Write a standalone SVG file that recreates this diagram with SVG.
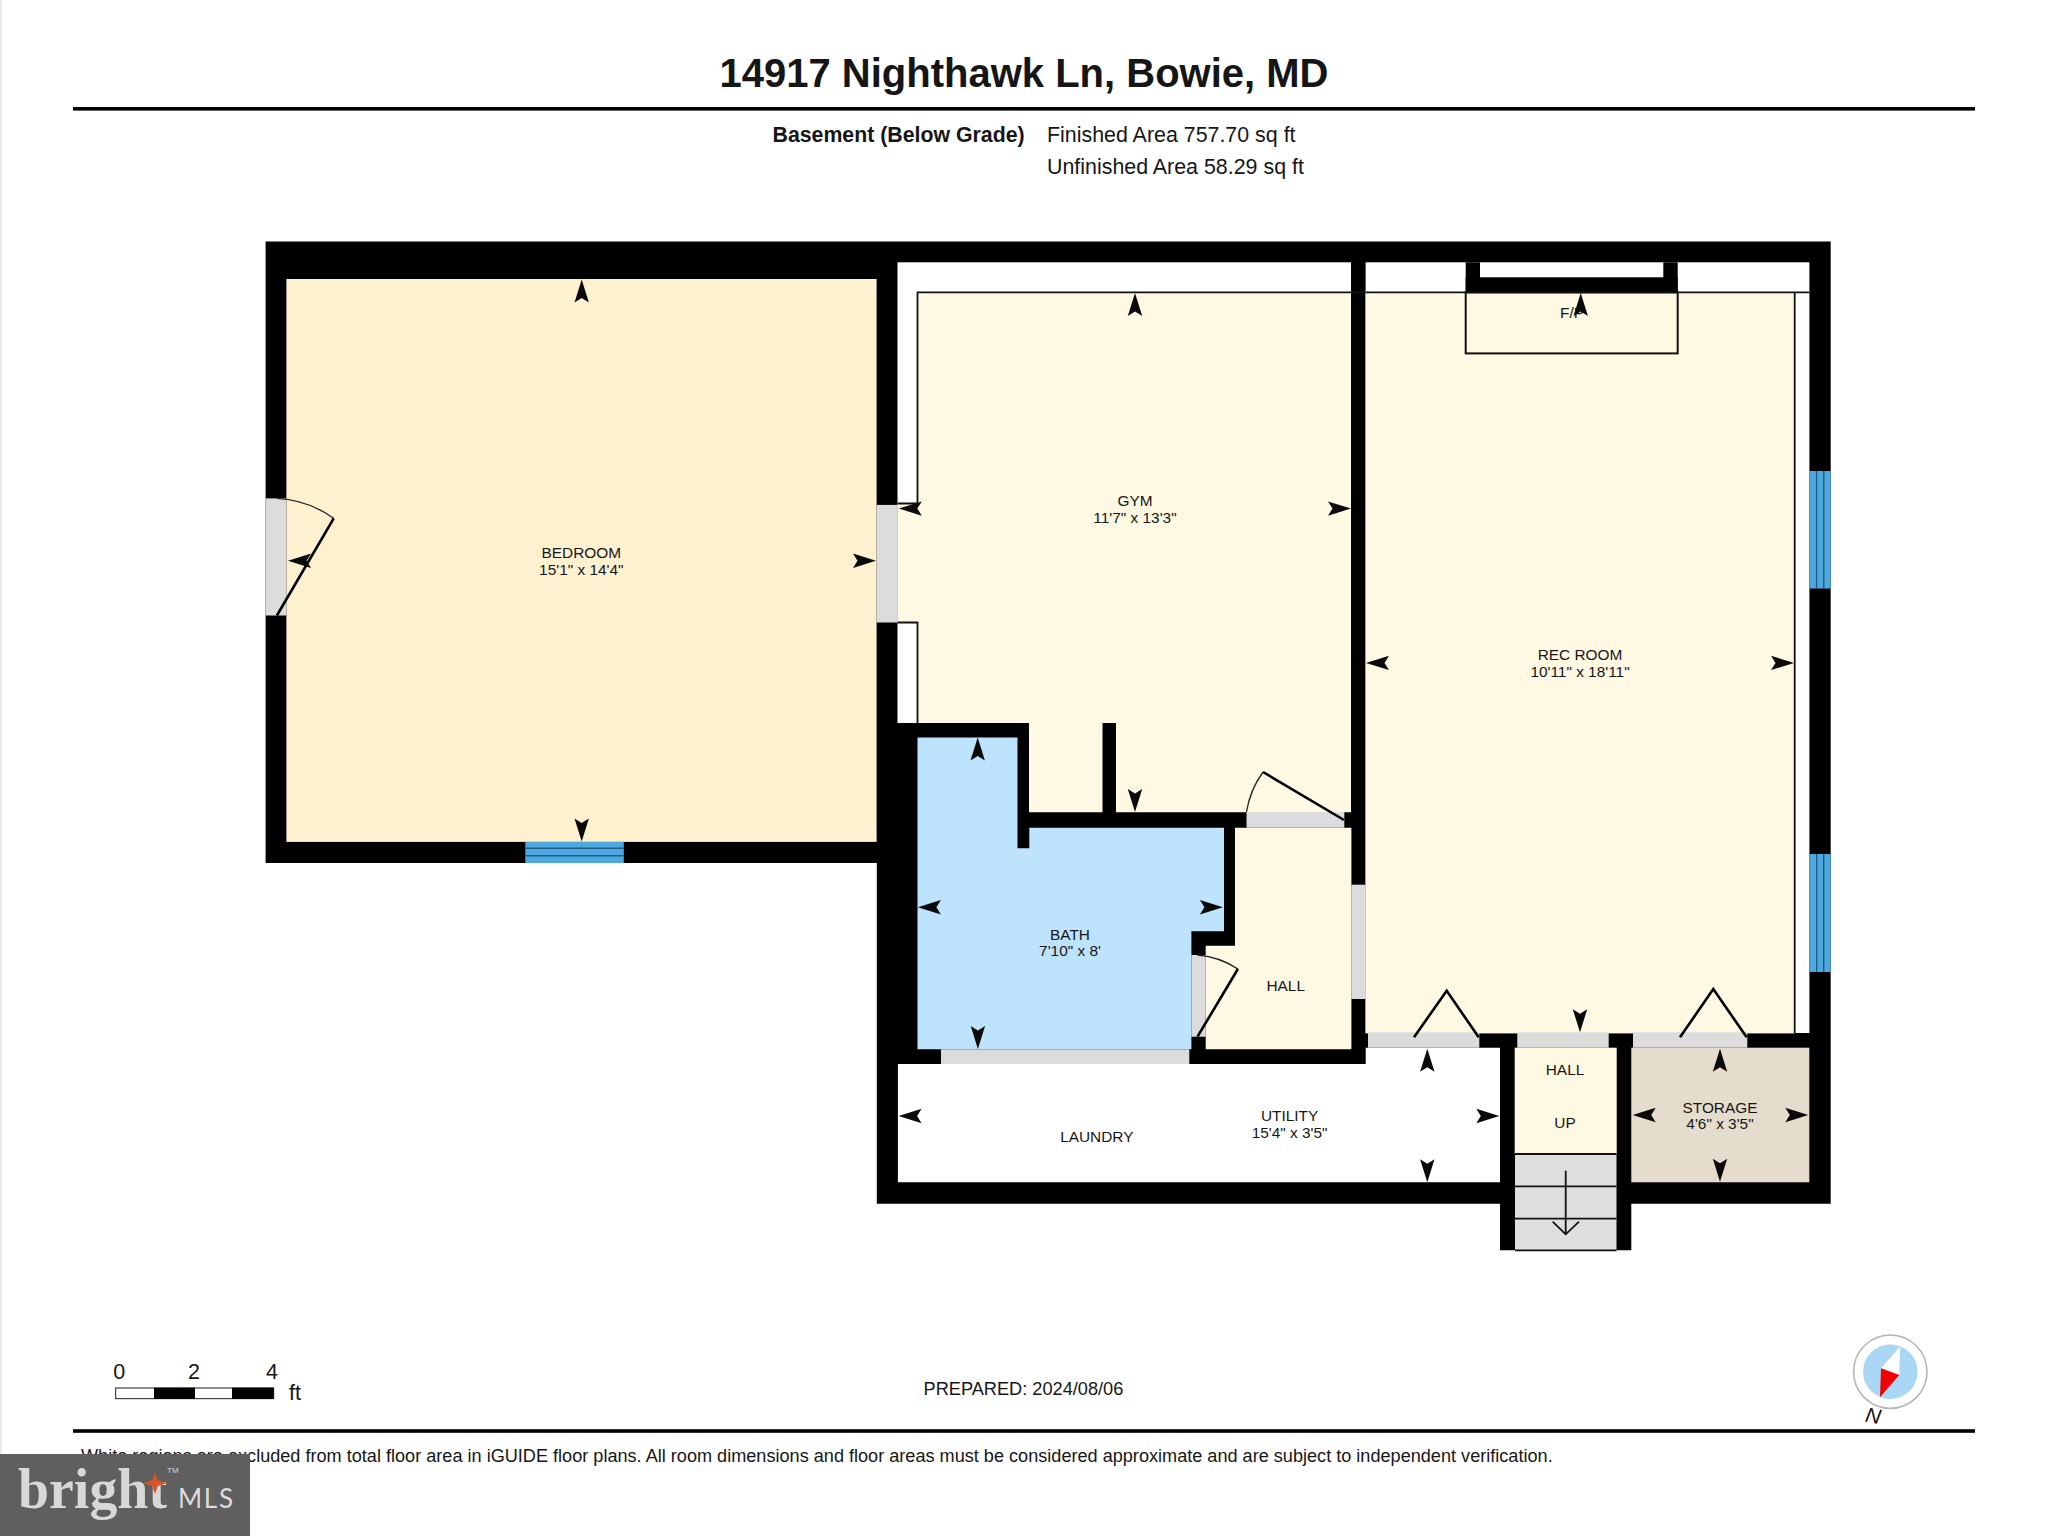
<svg xmlns="http://www.w3.org/2000/svg" width="2048" height="1536" viewBox="0 0 2048 1536">
<style>
text{font-family:"Liberation Sans",Arial,sans-serif;fill:#161616}
.l{font-size:15.4px;text-anchor:middle}
.cream{fill:#fff8e3}
.grey{fill:#dcdcdc}
.win{fill:#4ea8de}
.wl{stroke:#1c5f8c;stroke-width:1.4;fill:none}
.thin{stroke:#111;stroke-width:1.8;fill:none}
.door{stroke:#000;stroke-width:2.6;fill:none}
.arc{stroke:#222;stroke-width:1.3;fill:none}
</style>
<defs>
<path id="a" d="M0,0 L7.2,23 L0,18.5 L-7.2,23 Z" fill="#0a0a0a"/>
</defs>
<rect width="2048" height="1536" fill="#fff"/>
<rect x="0" y="0" width="1.5" height="1536" fill="#e4e4e4"/>
<g id="header">
<text x="1024" y="86.5" font-size="40" font-weight="700" text-anchor="middle">14917 Nighthawk Ln, Bowie, MD</text>
<rect x="73" y="107" width="1902" height="3.6" fill="#000"/>
<text x="1024.6" y="141.7" font-size="21.3" font-weight="700" text-anchor="end">Basement (Below Grade)</text>
<text x="1047" y="141.7" font-size="21.4">Finished Area 757.70 sq ft</text>
<text x="1047" y="174" font-size="21.4">Unfinished Area 58.29 sq ft</text>
</g>
<g id="walls">
<path fill="#000" d="M265.6,241.5H1830.7V1203.7H1631.3V1250.3H1500V1203.7H876.8V863H265.6Z"/>
</g>
<g id="bedroom">
<rect x="286.4" y="279" width="590.2" height="562.9" fill="#fef1d0"/>
<rect x="265.6" y="498.4" width="20.8" height="117.1" class="grey"/>
<rect x="525.3" y="841.9" width="98.5" height="21.1" class="win"/>
<path class="wl" d="M525.3,848.3H623.8M525.3,855.7H623.8"/>
<path class="arc" d="M276.9,498.4Q308,500 333.7,518.3"/>
<path class="door" d="M333.7,518.3L276.9,615.5"/>
<use href="#a" transform="translate(581.7,279.5)"/>
<use href="#a" transform="translate(581.7,841.5) rotate(180)"/>
<use href="#a" transform="translate(288,560.8) rotate(-90)"/>
<use href="#a" transform="translate(876,560.8) rotate(90)"/>
<text class="l" x="581.3" y="558.2">BEDROOM</text>
<text class="l" x="581.3" y="574.7">15'1" x 14'4"</text>
</g>
<g id="gym">
<rect x="897.5" y="262.3" width="453.5" height="460.7" fill="#fff"/>
<path class="cream" d="M917.5,292.4H1351V812.3H1116V723H1102.5V812.3H1029V723H917.5V622.5H897.5V503.5H917.5Z"/>
<rect x="876.6" y="504.9" width="20.9" height="117.6" class="grey"/>
<path class="thin" d="M897.5,503.5H917.5V292.4H1809.4M897.5,622.5H917.5V723"/>
<rect x="1246.5" y="812" width="97.8" height="15.7" class="grey"/>
<path class="arc" d="M1246.5,812Q1250,790 1263,772"/>
<path class="door" d="M1263,772L1344,820"/>
<use href="#a" transform="translate(1135,293)"/>
<use href="#a" transform="translate(1135,812) rotate(180)"/>
<use href="#a" transform="translate(898.8,508.6) rotate(-90)"/>
<use href="#a" transform="translate(1351,508.6) rotate(90)"/>
<text class="l" x="1135" y="505.5">GYM</text>
<text class="l" x="1135" y="522.5">11'7" x 13'3"</text>
</g>
<g id="rec-room">
<rect x="1365.6" y="262.3" width="443.8" height="770.7" fill="#fff"/>
<rect x="1365.6" y="292.4" width="429.1" height="741" class="cream"/>
<path class="thin" d="M1365.6,292.4H1809.4M1794.7,292.4V1033"/>
<rect x="1465.7" y="262.3" width="14.3" height="30" fill="#000"/>
<rect x="1663.3" y="262.3" width="14.4" height="30" fill="#000"/>
<rect x="1465.7" y="277.3" width="212" height="15" fill="#000"/>
<rect x="1465.7" y="292.4" width="212" height="61" fill="none" stroke="#111" stroke-width="2"/>
<text class="l" x="1572" y="318.3">F/P</text>
<rect x="1809.4" y="471" width="21.3" height="117.5" class="win"/>
<path class="wl" d="M1816.6,471V588.5M1823.8,471V588.5"/>
<rect x="1809.4" y="854" width="21.3" height="118" class="win"/>
<path class="wl" d="M1816.7,854V972M1823.7,854V972"/>
<rect x="1351.4" y="884.7" width="14.3" height="114.3" class="grey"/>
<rect x="1368" y="1032.3" width="111.3" height="15.4" class="grey"/>
<rect x="1517.3" y="1032.3" width="91.4" height="15.4" class="grey"/>
<rect x="1633" y="1032.3" width="114.3" height="15.4" class="grey"/>
<path class="door" d="M1414,1037.3L1446.7,990.7L1478.7,1037.3M1680,1037.3L1713.3,989L1746.7,1037.3"/>
<use href="#a" transform="translate(1580.7,293)"/>
<use href="#a" transform="translate(1580,1032.3) rotate(180)"/>
<use href="#a" transform="translate(1366,662.9) rotate(-90)"/>
<use href="#a" transform="translate(1794,662.9) rotate(90)"/>
<text class="l" x="1580" y="660">REC ROOM</text>
<text class="l" x="1580" y="676.7">10'11" x 18'11"</text>
</g>
<g id="bath">
<path fill="#bde3fd" d="M917.5,737.5H1017.5V848.3H1029.3V827.7H1224V931.3H1191.4V1049.3H917.5Z"/>
<rect x="941" y="1049.3" width="248.3" height="14.7" class="grey"/>
<use href="#a" transform="translate(977.7,737.5)"/>
<use href="#a" transform="translate(977.9,1049) rotate(180)"/>
<use href="#a" transform="translate(917.9,907.3) rotate(-90)"/>
<use href="#a" transform="translate(1222.9,907.3) rotate(90)"/>
<text class="l" x="1070" y="940">BATH</text>
<text class="l" x="1070" y="956">7'10" x 8'</text>
</g>
<g id="hall">
<path class="cream" d="M1235,827.7H1351.4V1049.3H1205.7V945.7H1235Z"/>
<rect x="1191.4" y="955" width="14.3" height="81.7" class="grey"/>
<path class="arc" d="M1197.5,955Q1220,957 1237.9,969"/>
<path class="door" d="M1237.9,969L1197.5,1036.7"/>
<text class="l" x="1285.7" y="990.7">HALL</text>
</g>
<g id="utility">
<path fill="#fff" d="M897.9,1064H1365.7V1047.7H1500V1182.3H897.9Z"/>
<use href="#a" transform="translate(1427.3,1048.7)"/>
<use href="#a" transform="translate(1427.3,1182.3) rotate(180)"/>
<use href="#a" transform="translate(898.6,1116) rotate(-90)"/>
<use href="#a" transform="translate(1499.3,1116) rotate(90)"/>
<text class="l" x="1096.8" y="1142.3">LAUNDRY</text>
<text class="l" x="1289.6" y="1121">UTILITY</text>
<text class="l" x="1289.6" y="1137.7">15'4" x 3'5"</text>
</g>
<g id="stair-hall">
<rect x="1514.7" y="1047.7" width="102" height="106.3" class="cream"/>
<rect x="1515" y="1154" width="101.5" height="96.3" fill="#dedede"/>
<path class="thin" d="M1515,1154H1616.5M1515,1186.3H1616.5M1515,1218.7H1616.5M1515,1250.3H1616.5"/>
<path class="thin" d="M1565.7,1170.7V1234.3M1552.7,1221.7L1565.7,1234.3L1579,1221.7"/>
<text class="l" x="1565" y="1075.3">HALL</text>
<text class="l" x="1565" y="1128">UP</text>
</g>
<g id="storage">
<rect x="1631.3" y="1047.7" width="178" height="134.6" fill="#e6dccd"/>
<use href="#a" transform="translate(1720,1048.7)"/>
<use href="#a" transform="translate(1720,1181.7) rotate(180)"/>
<use href="#a" transform="translate(1632.7,1115) rotate(-90)"/>
<use href="#a" transform="translate(1808.3,1115) rotate(90)"/>
<text class="l" x="1720" y="1112.7">STORAGE</text>
<text class="l" x="1720" y="1129.3">4'6" x 3'5"</text>
</g>
<g id="scale">
<rect x="115.6" y="1388" width="158" height="10.6" fill="#fff" stroke="#444" stroke-width="1.2"/>
<rect x="154" y="1387.7" width="41" height="11.3" fill="#000"/>
<rect x="232" y="1387.7" width="41.7" height="11.3" fill="#000"/>
<text x="119.2" y="1379" font-size="21.5" text-anchor="middle">0</text>
<text x="194" y="1379" font-size="21.5" text-anchor="middle">2</text>
<text x="272" y="1379" font-size="21.5" text-anchor="middle">4</text>
<text x="289" y="1400" font-size="21.5">ft</text>
</g>
<g id="footer">
<text x="923.5" y="1394.8" font-size="18.2">PREPARED: 2024/08/06</text>
<rect x="73" y="1429.2" width="1902" height="3.6" fill="#000"/>
<text x="81" y="1461.7" font-size="18.13">White regions are excluded from total floor area in iGUIDE floor plans. All room dimensions and floor areas must be considered approximate and are subject to independent verification.</text>
</g>
<g id="compass">
<circle cx="1890.3" cy="1371.7" r="36.7" fill="#fff" stroke="#b5b5b5" stroke-width="1.6"/>
<circle cx="1890.3" cy="1371.7" r="27.3" fill="#a9d7f5"/>
<path fill="#fff" d="M1900,1346.7L1881,1368.3L1899.3,1375Z"/>
<path fill="#f00000" d="M1881,1368.3L1899.3,1375L1880,1397.3Z"/>
<text font-size="21" font-style="italic" text-anchor="middle" transform="translate(1872,1422.7) rotate(10)">N</text>
</g>
<g id="logo">
<rect x="0" y="1454" width="250" height="82" fill="#5f5f5f"/>
<text x="18" y="1508" font-size="58" style="font-family:'Liberation Serif',serif;fill:#d8d8d8" font-weight="700" textLength="149" lengthAdjust="spacingAndGlyphs">bright</text>
<rect x="149" y="1468" width="13" height="13" fill="#5f5f5f"/>
<path fill="#d4552a" d="M155,1472L157.8,1480L167,1483L157.8,1486L155,1494L152.2,1486L143,1483L152.2,1480Z"/>
<text x="167" y="1473" font-size="8" style="fill:#d8d8d8">TM</text>
<text x="178" y="1508" font-size="26" style="font-family:Lato,'Liberation Sans',sans-serif;fill:#dcdcdc" textLength="55">MLS</text>
</g>
</svg>
